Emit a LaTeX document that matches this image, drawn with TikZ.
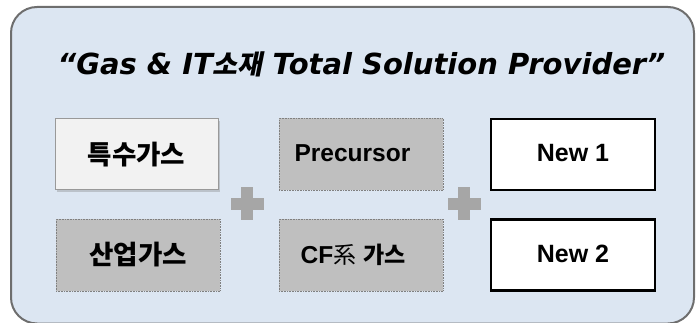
\documentclass[tikz,border=0pt]{standalone}
\usepackage{fontspec}
\setmainfont{DejaVu Sans}
\newfontfamily\boxfont{Liberation Sans}
\newfontfamily\krfont{Noto Sans CJK KR}
\newfontfamily\krslant[FakeSlant=0.2]{Noto Sans CJK KR}
\usetikzlibrary{shadows}
\definecolor{bgblue}{HTML}{DCE6F2}
\definecolor{framegray}{HTML}{6E6E6E}
\definecolor{boxgray}{HTML}{BFBFBF}
\definecolor{lightbox}{HTML}{F2F2F2}
\definecolor{plusgray}{HTML}{A6A6A6}
\tikzset{
  frame/.style={draw=framegray, line width=2pt, fill=bgblue, rounded corners=26pt},
  litebox/.style={draw=gray!80, line width=1pt, fill=lightbox, minimum width=163pt, minimum height=71pt, inner sep=0pt, drop shadow={shadow xshift=1.5pt, shadow yshift=-2pt, opacity=0.35}},
  graybox/.style={draw=gray, densely dotted, line width=0.6pt, fill=boxgray, minimum width=164pt, minimum height=72pt, inner sep=0pt},
  newbox/.style={draw=black, line width=2.5pt, fill=white, minimum width=164pt, minimum height=71pt, inner sep=0pt},
  krlabel/.style={font=\krfont\bfseries\fontsize{26.5}{30}\selectfont},
  enlabel/.style={font=\boxfont\bfseries\fontsize{24.5}{28}\selectfont},
  newlabel/.style={font=\boxfont\bfseries\fontsize{25}{28}\selectfont},
  txt/.style={inner sep=0pt}
}
\begin{document}
\begin{tikzpicture}[x=1pt,y=-1pt]
\useasboundingbox (0,0) rectangle (696,323);
\draw[frame] (11,7) rectangle (694,323.5);
\node[anchor=base, txt] (title) at (361.5,75) {\fontsize{29}{33}\selectfont\bfseries\itshape “Gas \& IT{\krslant\fontsize{27}{30}\selectfont 소재} Total Solution Provider”};
\node[litebox] (sg) at (136.5,154.5) {};
\node[krlabel, txt] (sgt) at (sg.center) {특수가스};
\node[graybox] (ig) at (138,255) {};
\node[krlabel, txt] (igt) at (ig.center) {산업가스};
\node[graybox] (pc) at (361,154.5) {};
\node[enlabel, txt, anchor=base] (pct) at (352.5,162) {Precursor};
\node[graybox] (cf) at (361,255) {};
\node[enlabel, txt, anchor=base] (cft) at (353,263) {CF{\krfont\mdseries\fontsize{23}{26}\selectfont 系} {\krfont\bfseries\fontsize{23}{26}\selectfont 가스}};
\node[newbox] (n1) at (573,154.5) {};
\node[newlabel, txt, anchor=base] (n1t) at (573,162) {New 1};
\node[newbox] (n2) at (573,255) {};
\node[newlabel, txt, anchor=base] (n2t) at (573,262.5) {New 2};
\coordinate (p1) at (247,204);
\coordinate (p2) at (464,204);
\foreach \p in {p1,p2}{
  \fill[plusgray] ([xshift=-16.5pt,yshift=-6pt]\p) rectangle ([xshift=16.5pt,yshift=6pt]\p);
  \fill[plusgray] ([xshift=-6pt,yshift=-16.5pt]\p) rectangle ([xshift=6pt,yshift=16.5pt]\p);
}
\end{tikzpicture}
\end{document}
